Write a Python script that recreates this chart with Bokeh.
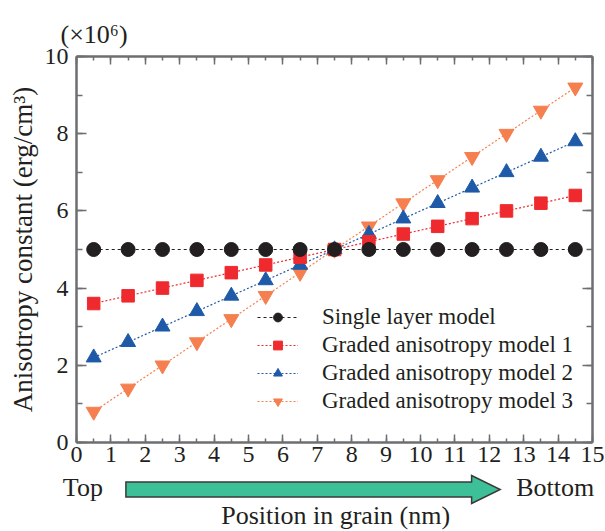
from bokeh.plotting import figure
from bokeh.embed import file_html
from bokeh.resources import INLINE
from bokeh.layouts import column
from bokeh.models import (Legend, LegendItem, LinearAxis, SingleIntervalTicker,
                          Range1d, CustomLabelingPolicy, Title, Div)

# ---- data ----
position_nm = [0.5, 1.5, 2.5, 3.5, 4.5, 5.5, 6.5, 7.5, 8.5, 9.5, 10.5, 11.5, 12.5, 13.5, 14.5]
single_layer = [5.0, 5.0, 5.0, 5.0, 5.0, 5.0, 5.0, 5.0, 5.0, 5.0, 5.0, 5.0, 5.0, 5.0, 5.0]
graded_1 = [3.6, 3.8, 4.0, 4.2, 4.4, 4.6, 4.8, 5.0, 5.2, 5.4, 5.6, 5.8, 6.0, 6.2, 6.4]
graded_2 = [2.2, 2.6, 3.0, 3.4, 3.8, 4.2, 4.6, 5.0, 5.4, 5.8, 6.2, 6.6, 7.0, 7.4, 7.8]
graded_3 = [0.8, 1.4, 2.0, 2.6, 3.2, 3.8, 4.4, 5.0, 5.6, 6.2, 6.8, 7.4, 8.0, 8.6, 9.2]
series_names = ["Single layer model", "Graded anisotropy model 1",
                "Graded anisotropy model 2", "Graded anisotropy model 3"]
x_label = "Position in grain (nm)"
y_label = "Anisotropy constant (erg/cm³)"
scale_note = "(×10⁶)"
direction_labels = ["Top", "Bottom"]

# ---- layout / style ----
W, H = 605, 531
FRAME_LEFT, FRAME_RIGHT = 76, 592
H_MAIN = 473
H_BOT = H - H_MAIN
X_MIN, X_MAX = 0, 15
PX_PER_X = (FRAME_RIGHT - FRAME_LEFT) / (X_MAX - X_MIN)

FONT = "Liberation Serif"
TXT = "#231f20"
AX = "#6d6e70"
C_BLACK = "#231f20"
C_RED = "#ee2a2e"
C_BLUE = "#1f5aa8"
C_ORANGE = "#f57f4f"
ARROW_FILL = "#3dbf98"
ARROW_EDGE = "#3a3a3a"

p = figure(width=W, height=H_MAIN, output_backend="svg", toolbar_location=None,
           x_range=Range1d(X_MIN, X_MAX), y_range=Range1d(0, 10),
           min_border_left=FRAME_LEFT, min_border_right=W - FRAME_RIGHT,
           min_border_top=56, min_border_bottom=31,
           x_axis_type=None, y_axis_type=None,
           background_fill_color="white", border_fill_color="white",
           outline_line_color=None)
p.grid.visible = False

p.title = Title(text=scale_note, align="left", offset=-16, standoff=16,
                text_font=FONT, text_font_size="26px", text_font_style="normal",
                text_color=TXT)

HIDE = "for (const i of indices) { indices.unset(i) } return indices"

def style_axis(ax, show_labels):
    ax.axis_line_color = AX
    ax.axis_line_width = 2.5
    ax.major_tick_line_color = AX
    ax.minor_tick_line_color = AX
    ax.major_tick_line_width = 1.5
    ax.minor_tick_line_width = 1.5
    ax.major_tick_out = 0
    ax.minor_tick_out = 0
    ax.major_label_text_font = FONT
    ax.major_label_text_color = TXT
    ax.axis_label_text_font = FONT
    ax.axis_label_text_color = TXT
    ax.axis_label_text_font_style = "normal"
    if not show_labels:
        ax.major_label_text_font_size = "0px"
        ax.major_label_standoff = 0
        ax.major_label_policy = CustomLabelingPolicy(code=HIDE)

for loc, show in (("below", True), ("above", False)):
    ax = LinearAxis(ticker=SingleIntervalTicker(interval=1, num_minor_ticks=2))
    style_axis(ax, show)
    ax.major_tick_in = 8
    ax.minor_tick_in = 4
    if show:
        ax.major_label_text_font_size = "24px"
        ax.major_label_standoff = 4
    p.add_layout(ax, loc)

for loc, show in (("left", True), ("right", False)):
    ax = LinearAxis(ticker=SingleIntervalTicker(interval=2, num_minor_ticks=2))
    style_axis(ax, show)
    ax.major_tick_in = 10
    ax.minor_tick_in = 6
    if show:
        ax.axis_label = y_label
        ax.axis_label_text_font_size = "27px"
        ax.axis_label_standoff = 4
        ax.major_label_text_font_size = "24px"
        ax.major_label_standoff = 8
        ax.major_label_orientation = "horizontal"
    p.add_layout(ax, loc)

# ---- series (model 3 drawn first, single layer last) ----
r3l = p.line(position_nm, graded_3, line_color=C_ORANGE, line_width=1.2, line_dash="2 2")
r3m = p.scatter(position_nm, graded_3, marker="inverted_triangle", size=15,
                fill_color=C_ORANGE, line_color=C_ORANGE)
r2l = p.line(position_nm, graded_2, line_color=C_BLUE, line_width=1.2, line_dash="2 2")
r2m = p.scatter(position_nm, graded_2, marker="triangle", size=15,
                fill_color=C_BLUE, line_color=C_BLUE)
r1l = p.line(position_nm, graded_1, line_color=C_RED, line_width=1.2, line_dash="2 2")
r1m = p.scatter(position_nm, graded_1, marker="square", size=12.5,
                fill_color=C_RED, line_color=C_RED)
r0l = p.line(position_nm, single_layer, line_color=C_BLACK, line_width=1.2, line_dash="3 3")
r0m = p.scatter(position_nm, single_layer, marker="circle", size=14,
                fill_color=C_BLACK, line_color=C_BLACK)

legend = Legend(items=[
    LegendItem(label=series_names[0], renderers=[r0l, r0m]),
    LegendItem(label=series_names[1], renderers=[r1l, r1m]),
    LegendItem(label=series_names[2], renderers=[r2l, r2m]),
    LegendItem(label=series_names[3], renderers=[r3l, r3m]),
], location=(181, 28), orientation="vertical")
legend.label_text_font = FONT
legend.label_text_font_size = "23px"
legend.label_text_color = TXT
legend.glyph_width = 41
legend.glyph_height = 22
legend.label_height = 22
legend.spacing = 2
legend.label_standoff = 24
legend.padding = 0
legend.margin = 0
legend.border_line_color = None
legend.background_fill_alpha = 0
p.add_layout(legend, "center")

# ---- bottom strip: direction arrow and x-axis title ----
def xpx(x):
    return FRAME_LEFT + (x - X_MIN) * PX_PER_X

ARROW_Y = 16.5       # px from strip top
BODY_HALF = 7.5
HEAD_HALF = 14
ARROW_START = 1.45   # in x data units
HEAD_BASE = 11.5
ARROW_TIP = 12.33
pts = [(xpx(ARROW_START), ARROW_Y - BODY_HALF), (xpx(HEAD_BASE), ARROW_Y - BODY_HALF),
       (xpx(HEAD_BASE), ARROW_Y - HEAD_HALF), (xpx(ARROW_TIP), ARROW_Y),
       (xpx(HEAD_BASE), ARROW_Y + HEAD_HALF), (xpx(HEAD_BASE), ARROW_Y + BODY_HALF),
       (xpx(ARROW_START), ARROW_Y + BODY_HALF)]
points = " ".join(f"{a:.1f},{b:.1f}" for a, b in pts)

def span(text, cx, top, size):
    return (f'<span style="position:absolute;left:{cx:.1f}px;top:{top}px;'
            f'transform:translateX(-50%);white-space:nowrap;font-size:{size}px;'
            f'line-height:1;">{text}</span>')

html = (f'<div style="position:relative;width:{W}px;height:{H_BOT}px;'
        f'font-family:\'{FONT}\';color:{TXT};background:white;overflow:hidden;">'
        f'<svg style="position:absolute;left:0;top:0;" width="{W}" height="{H_BOT}">'
        f'<polygon points="{points}" fill="{ARROW_FILL}" stroke="{ARROW_EDGE}" '
        f'stroke-width="1.5"/></svg>'
        + span(direction_labels[0], xpx(0.2), 2, 26)
        + span(direction_labels[1], xpx(13.93), 2, 26)
        + span(x_label, xpx(7.55), 30, 26)
        + '</div>')
strip = Div(text=html, width=W, height=H_BOT, margin=0)

open("out.html", "w").write(file_html(column(p, strip, spacing=0), INLINE))
